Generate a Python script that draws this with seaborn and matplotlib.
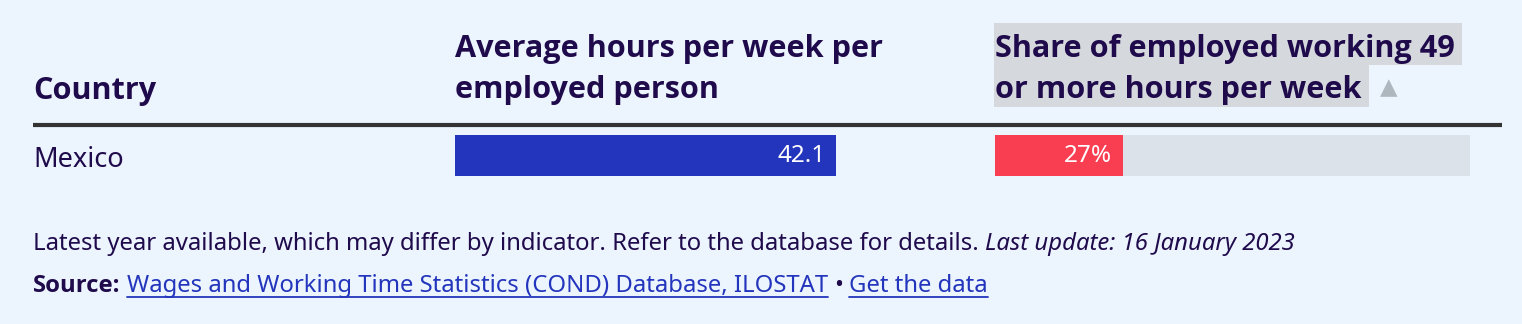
import matplotlib
matplotlib.use("Agg")
import matplotlib.pyplot as plt
from matplotlib.patches import Rectangle
from matplotlib.lines import Line2D
from matplotlib import font_manager as fm
import seaborn as sns
import pandas as pd

# ---------------- data ----------------
countries = ["Mexico"]
avg_hours = [42.1]
share_49plus = [27]          # percent
share_track = [100]          # full scale of the share column
col_country = "Country"
col_hours = ["Average hours per week per", "employed person"]
col_share = ["Share of employed working 49", "or more hours per week"]
note_text = "Latest year available, which may differ by indicator. Refer to the database for details."
update_text = "Last update: 16 January 2023"
source_label = "Source:"
source_link = "Wages and Working Time Statistics (COND) Database, ILOSTAT"
bullet = "\u2022"
data_link = "Get the data"

# ---------------- style ----------------
W, H = 1522, 324
BG = "#ECF4FE"
TXT = "#1F0A4B"
BLUE = "#2335BC"
RED = "#FA3E52"
TRACK = "#DCE2EA"
HILITE = "#D5D9DD"
ARROW = "#AEB6BE"
RULE = "#333333"

sns.set_theme(style="white")


def pick_family(cands, weight="normal", style="normal"):
    for fam in cands:
        try:
            f = fm.findfont(fm.FontProperties(family=fam, weight=weight, style=style),
                            fallback_to_default=False)
        except Exception:
            continue
        name = f.lower()
        if weight == "bold" and "bold" not in name:
            continue
        if style == "italic" and not ("italic" in name or "oblique" in name):
            continue
        return fam
    return "DejaVu Sans"


REG = pick_family(["Noto Sans", "Open Sans"])
BOLD = pick_family(["Noto Sans", "Open Sans", "Lato", "Roboto"], weight="bold")
ITAL = pick_family(["Noto Sans", "Open Sans", "Lato", "Roboto"], style="italic")
plt.rcParams["font.family"] = [REG, "DejaVu Sans"]

fig = plt.figure(figsize=(W / 100, H / 100), dpi=100, facecolor=BG)
ov = fig.add_axes([0, 0, 1, 1])
ov.set_xlim(0, W)
ov.set_ylim(H, 0)
ov.axis("off")
ov.patch.set_alpha(0)
R = fig.canvas.get_renderer()


def px_axes(x0, y0, w, h):
    ax = fig.add_axes([x0 / W, 1 - (y0 + h) / H, w / W, h / H])
    ax.patch.set_alpha(0)
    return ax


def ext(t):
    bb = t.get_window_extent(R)
    return bb.x0, bb.x1, H - bb.y1, H - bb.y0


HEAD_FS = 22.1
BODY_FS = 19.5
FOOT_FS = 17.2
hb = dict(fontsize=HEAD_FS, fontweight="bold", color=TXT, va="baseline",
          family=[BOLD, "DejaVu Sans"])

# ---------------- header ----------------
ov.text(33, 99, col_country, **hb)
for i, line in enumerate(col_hours):
    ov.text(455, 57 + 41 * i, line, **hb)

tops = [23, 65]
bots = [65, 107]
last_right = 0
for i, line in enumerate(col_share):
    t = ov.text(995, 57 + 41 * i, line, zorder=3, **hb)
    x0, x1, _, _ = ext(t)
    ov.add_patch(Rectangle((994, tops[i]), x1 + 7 - 994, bots[i] - tops[i],
                           facecolor=HILITE, edgecolor="none", zorder=1))
    last_right = x1
ov.text(last_right + 27, 88, "\u25B2", fontsize=16.5, color=ARROW, va="center", ha="center",
        family=["DejaVu Sans"])

# rule under header
ov.add_line(Line2D([33, 1502], [125, 125], color=RULE, linewidth=3.0, solid_capstyle="butt"))

# ---------------- rows ----------------
df = pd.DataFrame({"Country": countries, "Hours": avg_hours,
                   "Share": share_49plus, "Track": share_track})

for i, c in enumerate(countries):
    ov.text(33, 167 + 48 * i, c, fontsize=BODY_FS, color=TXT, va="baseline")

ax1 = px_axes(455, 135, 475, 41)
sns.barplot(data=df, x="Hours", y="Country", ax=ax1, color=BLUE, width=1,
            saturation=1, orient="h", linewidth=0)
ax1.set_xlim(0, 52.5)
ax1.set_ylim(0.5, -0.5)
ax1.axis("off")
for i, v in enumerate(df["Hours"]):
    ax1.annotate(f"{v:.1f}", xy=(v, i), xytext=(-10, 0), textcoords="offset pixels",
                 ha="right", va="center", color="white", fontsize=17.5)

ax2 = px_axes(995, 135, 475, 41)
sns.barplot(data=df, x="Track", y="Country", ax=ax2, color=TRACK, width=1,
            saturation=1, orient="h", linewidth=0)
sns.barplot(data=df, x="Share", y="Country", ax=ax2, color=RED, width=1,
            saturation=1, orient="h", linewidth=0)
ax2.set_xlim(0, 100)
ax2.set_ylim(0.5, -0.5)
ax2.axis("off")
for i, v in enumerate(df["Share"]):
    ax2.annotate(f"{v:.0f}%", xy=(v, i), xytext=(-11, 0), textcoords="offset pixels",
                 ha="right", va="center", color="white", fontsize=17.5)

# ---------------- footer ----------------
def space_w(fs, **kw):
    a = ov.text(0, 0, "a a", fontsize=fs, **kw)
    b = ov.text(0, 0, "aa", fontsize=fs, **kw)
    w = (ext(a)[1] - ext(a)[0]) - (ext(b)[1] - ext(b)[0])
    a.remove(); b.remove()
    return w

sp = space_w(FOOT_FS)

t = ov.text(33, 250, note_text, fontsize=FOOT_FS, color=TXT, va="baseline")
x = ext(t)[1] + sp
ov.text(x, 250, update_text, fontsize=FOOT_FS, color=TXT, va="baseline", style="italic",
        family=[ITAL, "DejaVu Sans"])

y2 = 292
t = ov.text(33, y2, source_label, fontsize=FOOT_FS, color=TXT, va="baseline",
            fontweight="bold", family=[BOLD, "DejaVu Sans"])
x = ext(t)[1] + sp
t = ov.text(x, y2, source_link, fontsize=FOOT_FS, color=BLUE, va="baseline")
a0, a1, _, _ = ext(t)
ov.add_line(Line2D([a0, a1], [y2 + 5, y2 + 5], color=BLUE, linewidth=1.3))
x = a1 + sp
t = ov.text(x, y2, bullet, fontsize=FOOT_FS, color=TXT, va="baseline")
x = ext(t)[1] + sp
t = ov.text(x, y2, data_link, fontsize=FOOT_FS, color=BLUE, va="baseline")
a0, a1, _, _ = ext(t)
ov.add_line(Line2D([a0, a1], [y2 + 5, y2 + 5], color=BLUE, linewidth=1.3))

fig.savefig("out.png", dpi=100, facecolor=BG)
